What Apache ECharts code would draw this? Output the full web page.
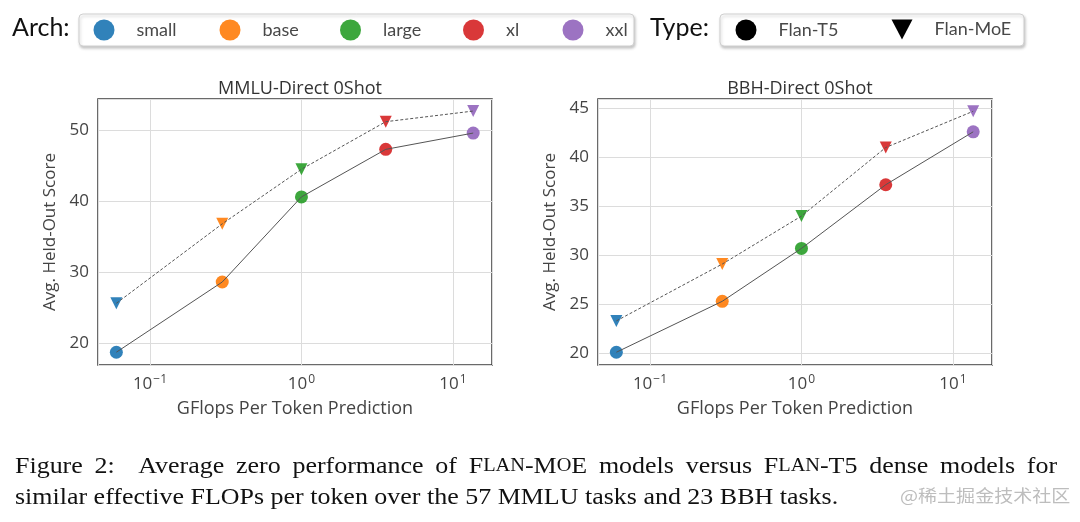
<!DOCTYPE html>
<html>
<head>
<meta charset="utf-8">
<script src="https://cdn.jsdelivr.net/npm/echarts@6/dist/echarts.min.js"></script>
<style>
html,body{margin:0;padding:0;background:#fff;}
#c{width:1080px;height:522px;}
</style>
</head>
<body>
<div id="c"></div>
<script>
// ---- data ----
const archs = ['small', 'base', 'large', 'xl', 'xxl'];
const archColors = ['#1f77b4', '#ff7f0e', '#2ca02c', '#d62728', '#9467bd'];
const gflops = [0.06, 0.3, 1.0, 3.6, 13.6];
const mmluT5 = [18.7, 28.6, 40.6, 47.3, 49.6];
const mmluMoE = [25.6, 36.8, 44.5, 51.2, 52.7];
const bbhT5 = [20.1, 25.3, 30.7, 37.2, 42.6];
const bbhMoE = [23.3, 29.1, 34.0, 41.0, 44.7];
const panelTitles = ['MMLU-Direct 0Shot', 'BBH-Direct 0Shot'];
const xTitle = 'GFlops Per Token Prediction';
const yTitle = 'Avg. Held-Out Score';
const typeNames = ['Flan-T5', 'Flan-MoE'];
const captionLine1 = ['Figure', '2:', '', 'Average', 'zero', 'performance', 'of', 'F{sc|LAN}-M{sc|O}E', 'models', 'versus', 'F{sc|LAN}-T5', 'dense', 'models', 'for'];
const captionLine2 = 'similar effective FLOPs per token over the 57 MMLU tasks and 23 BBH tasks.';
const watermark = '@稀土掘金技术社区';

const chart = echarts.init(document.getElementById('c'), null, {renderer: 'canvas'});

const tickFont = 'Open Sans';
const gridsPos = [{left: 98, top: 99, width: 394, height: 266}, {left: 598, top: 99, width: 394, height: 266}];
const yRanges = [[16.9, 54.4], [18.8, 45.95]];
const panels = [[mmluT5, mmluMoE], [bbhT5, bbhMoE]];

function xFormatter(v) {
  const e = Math.log10(v);
  const r = Math.round(e);
  if (Math.abs(e - r) > 1e-6) return '';
  const exp = r < 0 ? '\u2212' + (-r) : String(r);
  return '{b|10}{s|' + exp + '}';
}

const grid = gridsPos.map(g => Object.assign({show: true, borderColor: '#3a3a3a', borderWidth: 1.5, backgroundColor: 'transparent'}, g));
const xAxis = gridsPos.map((g, i) => ({
  type: 'log', logBase: 10, gridIndex: i, min: 0.0454, max: 18.1,
  name: xTitle, nameLocation: 'middle', nameGap: 35,
  nameTextStyle: {fontFamily: tickFont, fontSize: 18, color: '#444'},
  axisLine: {show: false}, axisTick: {show: false}, minorTick: {show: false},
  splitLine: {show: true, lineStyle: {color: '#dcdcdc', width: 1}},
  axisLabel: {
    formatter: xFormatter, margin: 9, showMinLabel: false, showMaxLabel: false,
    rich: {
      b: {fontFamily: tickFont, fontSize: 17, color: '#444'},
      s: {fontFamily: tickFont, fontSize: 12, color: '#444', padding: [0, 0, 9, 1]}
    }
  }
}));
const yAxis = gridsPos.map((g, i) => ({
  type: 'value', gridIndex: i, min: yRanges[i][0], max: yRanges[i][1], splitNumber: 5,
  name: yTitle, nameLocation: 'middle', nameGap: 39, nameRotate: 90,
  nameTextStyle: {fontFamily: tickFont, fontSize: 17, color: '#444'},
  axisLine: {show: false}, axisTick: {show: false},
  splitLine: {show: true, lineStyle: {color: '#dcdcdc', width: 1}},
  axisLabel: {
    fontFamily: tickFont, fontSize: 17, color: '#444', margin: 9,
    formatter: v => (Math.abs(v - Math.round(v)) < 1e-6 && Math.round(v) % 5 === 0) ? String(Math.round(v)) : ''
  }
}));

const series = [];
panels.forEach((p, gi) => {
  archs.forEach((a, ai) => {
    series.push({
      name: a, type: 'scatter', xAxisIndex: gi, yAxisIndex: gi, z: 2,
      itemStyle: {color: archColors[ai], opacity: 0.92},
      data: [
        {value: [gflops[ai], p[0][ai]], symbol: 'circle', symbolSize: 13},
        {value: [gflops[ai], p[1][ai]], symbol: 'triangle', symbolSize: 12, symbolRotate: 180}
      ]
    });
  });
  series.push({
    name: typeNames[0], type: 'line', xAxisIndex: gi, yAxisIndex: gi, z: 3,
    showSymbol: false, symbol: 'none', color: '#000',
    lineStyle: {color: '#555', width: 1},
    data: gflops.map((x, k) => [x, p[0][k]])
  });
  series.push({
    name: typeNames[1], type: 'line', xAxisIndex: gi, yAxisIndex: gi, z: 3,
    showSymbol: false, symbol: 'none', color: '#000',
    lineStyle: {color: '#555', width: 1, type: [3, 2]},
    data: gflops.map((x, k) => [x, p[1][k]])
  });
});

// ---- legends: one legend component per entry, placed at the reference positions ----
const legendFont = 'Lato';
const txt = {fontFamily: legendFont, fontSize: 18, color: '#484848', padding: [0, 0, 0, 17]};
const archIconCenters = [104, 230, 350.5, 473.5, 573];
const typeIconCenters = [746, 902];
const downTri = 'path://M0,0 L10,0 L5,9.5 Z';
const legends = [];
archs.forEach((a, i) => {
  legends.push({
    left: archIconCenters[i] - 10.5, top: 19.5, padding: 0, itemWidth: 21, itemHeight: 21,
    selectedMode: false, icon: 'circle', data: [a], textStyle: txt
  });
});
typeNames.forEach((t, i) => {
  legends.push({
    left: typeIconCenters[i] - 10.5, top: 19.5, padding: 0, itemWidth: 21, itemHeight: 21,
    selectedMode: false,
    data: [{name: t, icon: i === 0 ? 'circle' : downTri, itemStyle: {color: '#000'}}],
    textStyle: txt
  });
});

const title = gridsPos.map((g, i) => ({
  text: panelTitles[i], left: g.left + g.width / 2, top: 75, textAlign: 'center',
  textStyle: {fontFamily: tickFont, fontSize: 18, fontWeight: 'normal', color: '#333'}
}));

const boxStyle = {fill: '#fff', stroke: '#d0d0d0', lineWidth: 1, shadowBlur: 3, shadowColor: 'rgba(0,0,0,0.22)', shadowOffsetX: 1, shadowOffsetY: 2};
const serif = 'Liberation Serif';
const capFS = 23;
const capScale = 1.129;
const line1Text = captionLine1.join('{sp| }');
const graphic = [
  {type: 'rect', shape: {x: 79, y: 14, width: 555, height: 32, r: 4}, style: boxStyle, z: 0},
  {type: 'rect', shape: {x: 720, y: 14, width: 304, height: 32, r: 4}, style: boxStyle, z: 0},
  {type: 'text', left: 12, top: 15, style: {text: 'Arch:', fontFamily: legendFont, fontSize: 25, fill: '#111'}},
  {type: 'text', left: 650, top: 15, style: {text: 'Type:', fontFamily: legendFont, fontSize: 25, fill: '#111'}},
  {type: 'text', x: 15, y: 455, scaleX: capScale, style: {
    text: line1Text, fontFamily: serif, fontSize: capFS, fill: '#111',
    rich: {
      sc: {fontFamily: serif, fontSize: Math.round(capFS * 0.8), fill: '#111'},
      sp: {width: 10.4}
    }
  }},
  {type: 'text', x: 15, y: 486, scaleX: capScale, style: {
    text: captionLine2, fontFamily: serif, fontSize: capFS, fill: '#111'
  }},
  {type: 'text', x: 900, y: 487, scaleX: 1.12, style: {
    text: watermark, fontFamily: 'Noto Sans CJK SC', fontSize: 17, fill: '#bdbdbd'
  }}
];

chart.setOption({
  backgroundColor: '#fff',
  animation: false,
  title: title,
  legend: legends,
  grid: grid,
  xAxis: xAxis,
  yAxis: yAxis,
  series: series,
  graphic: graphic
});
</script>
</body>
</html>
